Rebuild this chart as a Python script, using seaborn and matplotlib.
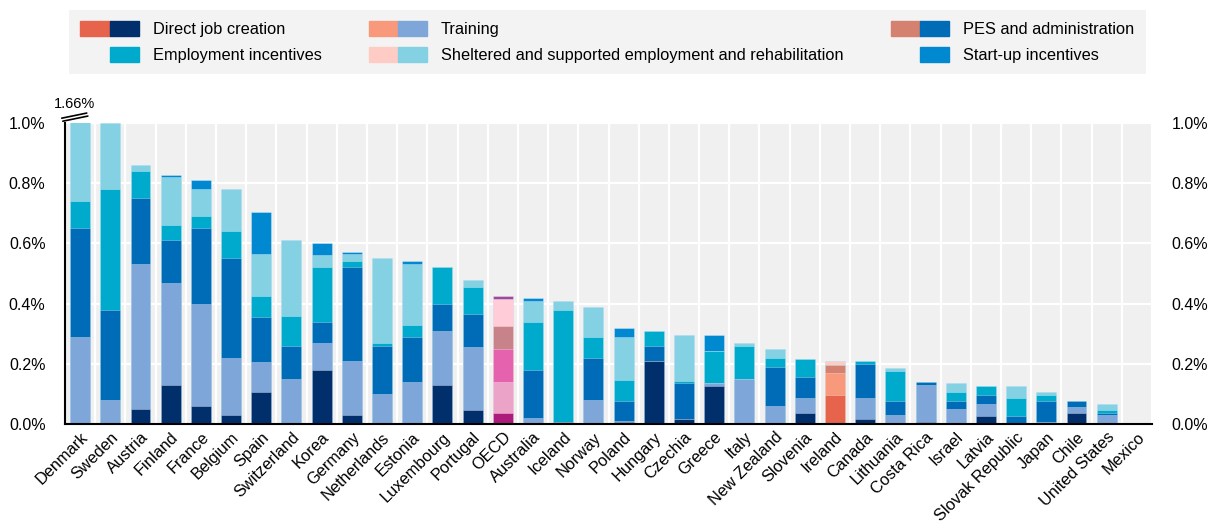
import numpy as np
import pandas as pd
import matplotlib.pyplot as plt
import seaborn as sns
from matplotlib.patches import Patch
from matplotlib.legend_handler import HandlerTuple
from matplotlib.ticker import FuncFormatter

# Spending on active labour market programmes, % of GDP
countries = ['Denmark', 'Sweden', 'Austria', 'Finland', 'France', 'Belgium', 'Spain',
             'Switzerland', 'Korea', 'Germany', 'Netherlands', 'Estonia', 'Luxembourg',
             'Portugal', 'OECD', 'Australia', 'Iceland', 'Norway', 'Poland', 'Hungary',
             'Czechia', 'Greece', 'Italy', 'New Zealand', 'Slovenia', 'Ireland', 'Canada',
             'Lithuania', 'Costa Rica', 'Israel', 'Latvia', 'Slovak Republic', 'Japan',
             'Chile', 'United States', 'Mexico']

direct_jobs = [0, 0, 0.05, 0.13, 0.06, 0.03, 0.105, 0, 0.18, 0.03, 0, 0, 0.13,
               0.045, 0.035, 0, 0.008, 0, 0.005, 0.21, 0.015, 0.125, 0, 0, 0.035,
               0.095, 0.015, 0, 0.005, 0, 0.025, 0, 0, 0.035, 0, 0]
training = [0.29, 0.08, 0.48, 0.34, 0.34, 0.19, 0.10, 0.15, 0.09, 0.18, 0.10, 0.14,
            0.18, 0.21, 0.105, 0.02, 0, 0.08, 0.004, 0, 0, 0.012, 0.15, 0.06, 0.05,
            0.075, 0.07, 0.03, 0.125, 0.05, 0.04, 0, 0.007, 0.02, 0.03, 0]
pes_admin = [0.36, 0.30, 0.22, 0.14, 0.25, 0.33, 0.15, 0.11, 0.07, 0.31, 0.16, 0.15,
             0.09, 0.11, 0.11, 0.158, 0, 0.14, 0.067, 0.05, 0.122, 0, 0, 0.128, 0.07,
             0.027, 0.113, 0.045, 0.009, 0.025, 0.03, 0.025, 0.069, 0.02, 0.007, 0]
employment_inc = [0.09, 0.40, 0.09, 0.05, 0.04, 0.09, 0.07, 0.10, 0.18, 0.02, 0.01,
                  0.04, 0.12, 0.09, 0.076, 0.162, 0.37, 0.07, 0.07, 0.05, 0.007,
                  0.107, 0.11, 0.03, 0.062, 0, 0.01, 0.10, 0, 0.03, 0.031, 0.06,
                  0.019, 0, 0.01, 0]
sheltered = [0.92, 0.22, 0.02, 0.16, 0.09, 0.14, 0.14, 0.25, 0.04, 0.024, 0.28, 0.20,
             0, 0.024, 0.089, 0.07, 0.03, 0.10, 0.142, 0, 0.153, 0, 0.01, 0.03, 0,
             0.013, 0, 0.012, 0, 0.031, 0, 0.042, 0.011, 0, 0.02, 0]
startup = [0, 0, 0, 0.008, 0.029, 0, 0.14, 0, 0.04, 0.009, 0, 0.01, 0, 0, 0.01,
           0.009, 0, 0, 0.031, 0, 0, 0.053, 0, 0, 0, 0, 0, 0, 0, 0, 0, 0, 0, 0, 0, 0]

categories = ['Direct job creation', 'Training', 'PES and administration',
              'Employment incentives',
              'Sheltered and supported employment and rehabilitation',
              'Start-up incentives']
layers = [direct_jobs, training, pes_admin, employment_inc, sheltered, startup]

base_colors = ['#002F6C', '#7FA6D8', '#006BB6', '#00AACC', '#85D1E4', '#0088D0']
oecd_colors = ['#AE1A7C', '#EBA3C8', '#E462AE', '#C7828A', '#FFCCD8', '#9B4A9E']
ireland_colors = ['#E5644B', '#F7997A', '#D4826F', '#00AACC', '#FFCCC5', '#0088D0']

sns.set_style('white', {'axes.facecolor': '#F0F0F0'})
plt.rcParams['font.family'] = ['Liberation Sans', 'DejaVu Sans']
plt.rcParams['text.color'] = 'black'
plt.rcParams['xtick.color'] = 'black'
plt.rcParams['ytick.color'] = 'black'

fig = plt.figure(figsize=(12.08, 5.21), dpi=100)
ax = fig.add_axes([65 / 1208, 97 / 521, 1087 / 1208, 301 / 521])

# stacked bars: draw the cumulative totals from the top layer down
cum = np.cumsum(np.array(layers), axis=0)
for k in range(len(layers) - 1, -1, -1):
    palette = {}
    for c in countries:
        if c == 'OECD':
            palette[c] = oecd_colors[k]
        elif c == 'Ireland':
            palette[c] = ireland_colors[k]
        else:
            palette[c] = base_colors[k]
    df = pd.DataFrame({'country': countries, 'value': cum[k]})
    sns.barplot(data=df, x='country', y='value', hue='country', palette=palette,
                order=countries, hue_order=countries, legend=False, errorbar=None,
                width=0.66, saturation=1, linewidth=0.6, edgecolor=(1, 1, 1, 0.35),
                ax=ax)

ax.set_xlim(-0.5, len(countries) - 0.5)
ax.set_ylim(0, 1.0)
ax.set_xlabel('')
ax.set_ylabel('')
ax.set_axisbelow(True)

ax.set_yticks(np.arange(0, 1.01, 0.2))
ax.yaxis.set_major_formatter(FuncFormatter(lambda v, p: f'{v:.1f}%'))
ax.set_xticks(np.arange(-0.5, len(countries), 1), minor=True)
ax.grid(axis='y', which='major', color='white', lw=1.6)
ax.grid(axis='x', which='minor', color='white', lw=1.6)
ax.grid(axis='x', which='major', visible=False)

ax.tick_params(axis='y', which='major', direction='in', length=5, width=1.2,
               labelsize=11.5, pad=14, labelright=True, right=False)
ax.tick_params(axis='x', which='both', length=0, labelsize=11.8, pad=4)
plt.setp(ax.get_xticklabels(), rotation=45, ha='right', rotation_mode='anchor')

for side in ['top', 'right']:
    ax.spines[side].set_visible(False)
for side in ['left', 'bottom']:
    ax.spines[side].set_color('black')
    ax.spines[side].set_linewidth(1.5)

# axis break mark and the off-scale value for Denmark
ax.plot([-0.003, 0.020], [1.016, 1.033], color='black', lw=1.2,
        transform=ax.transAxes, clip_on=False)
ax.plot([-0.002, 0.021], [1.006, 1.023], color='black', lw=1.2,
        transform=ax.transAxes, clip_on=False)
ax.text(0.0085, 1.062, '1.66%', transform=ax.transAxes, ha='center', va='center',
        fontsize=10.5)

# legend with two-tone swatches
blank = Patch(facecolor='none', edgecolor='none')
handles = [
    (Patch(color=ireland_colors[0]), Patch(color=base_colors[0])),
    (blank, Patch(color=base_colors[3])),
    (Patch(color=ireland_colors[1]), Patch(color=base_colors[1])),
    (Patch(color=ireland_colors[4]), Patch(color=base_colors[4])),
    (Patch(color=ireland_colors[2]), Patch(color=base_colors[2])),
    (blank, Patch(color=base_colors[5])),
]
labels = [categories[0], categories[3], categories[1], categories[4],
          categories[2], categories[5]]
leg = fig.legend(handles, labels, ncol=3, loc='upper left',
                 bbox_to_anchor=(69 / 1208, 1 - 10 / 521),
                 handler_map={tuple: HandlerTuple(ndivide=None, pad=0)},
                 fontsize=11.8, handlelength=3.55, handleheight=1.0,
                 handletextpad=0.85, columnspacing=2.9, labelspacing=0.58,
                 borderpad=0.7, borderaxespad=0, frameon=True, fancybox=False)
leg.get_frame().set_facecolor('#F0F0F0')
leg.get_frame().set_edgecolor('none')

fig.savefig('out.png', dpi=100)
